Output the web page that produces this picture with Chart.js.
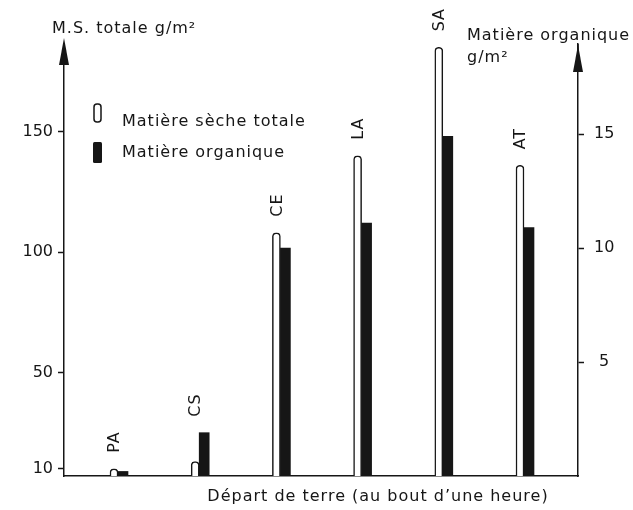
<!DOCTYPE html>
<html>
<head>
<meta charset="utf-8">
<script src="https://cdn.jsdelivr.net/npm/chart.js@4.4.1/dist/chart.umd.min.js"></script>
<style>
  html, body { margin: 0; padding: 0; background: #fff; }
</style>
</head>
<body>
<canvas id="barCanvas" width="633" height="510"></canvas>
<script>
// values
let categories = ['PA', 'CS', 'CE', 'LA', 'SA', 'AT'];
let msTotale = [10, 13, 108, 140, 185, 136];            // g/m2, left axis
let matOrganique = [0.2, 1.9, 10.0, 11.1, 14.9, 10.9];   // g/m2, right axis
let leftTicks = [10, 50, 100, 150];
let rightTicks = [5, 10, 15];
let seriesLabels = ['Matière sèche totale', 'Matière organique'];

const ink = '#161616';
const fontFamily = '"DejaVu Sans", sans-serif';

let toPoints = function (vals) {
    return vals.map(function (v, i) { return { x: i + 1, y: v }; });
};

// arrows, titles, legend and the rotated category names
let decorations = {
    id: 'decorations',
    afterDraw: function (chart) {
        let ctx = chart.ctx;
        let area = chart.chartArea;
        let xs = chart.scales.x;
        ctx.save();
        ctx.fillStyle = ink;
        ctx.strokeStyle = ink;
        ctx.lineWidth = 1.5;

        let arrow = function (x, tip, base) {
            ctx.beginPath();
            ctx.moveTo(x, base);
            ctx.lineTo(x, area.top);
            ctx.stroke();
            ctx.beginPath();
            ctx.moveTo(x, tip);
            ctx.lineTo(x - 5, base);
            ctx.lineTo(x + 5, base);
            ctx.closePath();
            ctx.fill();
        };
        arrow(area.left, 38, 65);
        arrow(area.right, 45, 72);

        ctx.font = '16px ' + fontFamily;
        ctx.letterSpacing = '1px';
        ctx.textBaseline = 'middle';
        ctx.textAlign = 'left';
        ctx.fillText('M.S. totale g/m²', 52, 29);
        ctx.fillText('Matière organique', 467, 36);
        ctx.fillText('g/m²', 467, 58);

        // legend
        let ds = chart.data.datasets;
        ctx.fillStyle = '#fff';
        ctx.beginPath();
        ctx.roundRect(94, 104, 7, 18, 3);
        ctx.fill();
        ctx.stroke();
        ctx.fillStyle = ink;
        ctx.beginPath();
        ctx.roundRect(93, 142, 9, 21, 1.5);
        ctx.fill();
        ctx.fillText(ds[0].label, 122, 122);
        ctx.fillText(ds[1].label, 122, 153);

        // x title
        ctx.textAlign = 'center';
        ctx.fillText('Départ de terre (au bout d’une heure)', 378, 497);

        // category names above each pair
        let m0 = chart.getDatasetMeta(0).data;
        let m1 = chart.getDatasetMeta(1).data;
        ctx.textAlign = 'left';
        categories.forEach(function (c, i) {
            let cx = xs.getPixelForValue(i + 1) - 3;
            let top = Math.min(m0[i].y, m1[i].y) - 16;
            ctx.save();
            ctx.translate(cx, top);
            ctx.rotate(-Math.PI / 2);
            ctx.fillText(c, 0, 0);
            ctx.restore();
        });
        ctx.restore();
    }
};

let ctx = document.getElementById('barCanvas').getContext('2d');
window.barChart = new Chart(ctx, {
    type: 'bar',
    data: {
        datasets: [{
            label: seriesLabels[0],
            data: toPoints(msTotale),
            yAxisID: 'y',
            backgroundColor: '#ffffff',
            borderColor: ink,
            borderWidth: 1.5,
            borderSkipped: 'bottom',
            borderRadius: { topLeft: 4, topRight: 4, bottomLeft: 0, bottomRight: 0 },
            barThickness: 8
        }, {
            label: seriesLabels[1],
            data: toPoints(matOrganique),
            yAxisID: 'y1',
            backgroundColor: ink,
            borderWidth: 0,
            barThickness: 10
        }]
    },
    options: {
        responsive: false,
        animation: false,
        layout: { padding: { top: 44 } },
        plugins: {
            legend: { display: false },
            tooltip: { enabled: false },
            title: { display: false }
        },
        scales: {
            x: {
                type: 'linear',
                min: 0.335,
                max: 6.665,
                offset: false,
                grid: { display: false },
                border: { display: true, color: ink, width: 1.5 },
                ticks: { display: false },
                afterFit: function (s) { s.height = 34; }
            },
            y: {
                position: 'left',
                min: 7,
                max: 186.4,
                grid: { drawOnChartArea: false, drawTicks: true, tickLength: 6, tickColor: ink, tickWidth: 1.5 },
                border: { display: true, color: ink, width: 1.5 },
                ticks: { color: ink, font: { family: fontFamily, size: 16 }, padding: 5 },
                afterBuildTicks: function (s) { s.ticks = leftTicks.map(function (v) { return { value: v }; }); },
                afterFit: function (s) { s.width = 64; }
            },
            y1: {
                position: 'right',
                min: 0,
                max: 18.95,
                grid: { drawOnChartArea: false, drawTicks: true, tickLength: 6, tickColor: ink, tickWidth: 1.5 },
                border: { display: true, color: ink, width: 1.5 },
                ticks: { color: ink, font: { family: fontFamily, size: 16 }, padding: 10, crossAlign: 'center' },
                afterBuildTicks: function (s) { s.ticks = rightTicks.map(function (v) { return { value: v }; }); },
                afterFit: function (s) { s.width = 55; }
            }
        }
    },
    plugins: [decorations]
});
</script>
</body>
</html>
